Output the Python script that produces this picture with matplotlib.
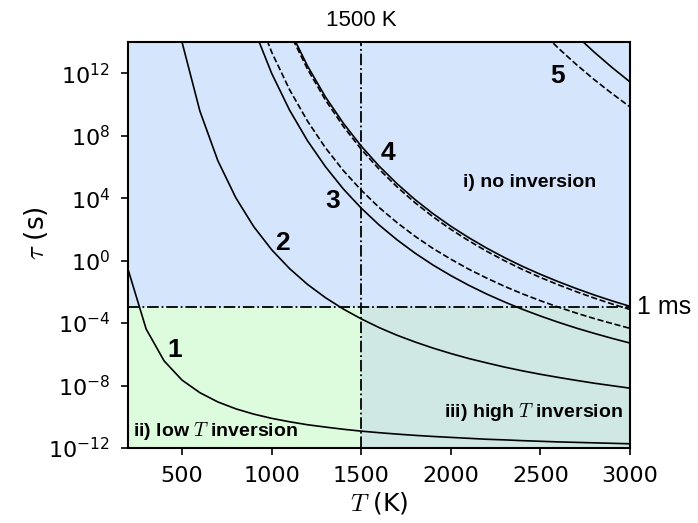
import numpy as np
import matplotlib
matplotlib.use("Agg")
import matplotlib.pyplot as plt

plt.rcParams['mathtext.fontset'] = 'cm'

# temperature grid (K)
T = np.arange(200, 3001, 100)

# log10 of relaxation time tau (s)
logtau_1 = [-0.6, -4.38, -6.42, -7.65, -8.46, -9.05, -9.49, -9.83, -10.10, -10.32,
            -10.51, -10.66, -10.80, -10.92, -11.02, -11.11, -11.19, -11.26, -11.32,
            -11.38, -11.44, -11.48, -11.53, -11.57, -11.61, -11.64, -11.67, -11.70, -11.73]
T_2 = T[2:]
logtau_2 = [20.65, 14.0, 9.57, 6.40, 4.03, 2.18, 0.70, -0.51, -1.52, -2.37, -3.10,
            -3.73, -4.29, -4.78, -5.21, -5.60, -5.95, -6.27, -6.55, -6.82, -7.06,
            -7.28, -7.48, -7.67, -7.85, -8.01, -8.17]
T_3 = T[6:]
logtau_3 = [18.48, 14.88, 12.0, 9.64, 7.68, 6.02, 4.59, 3.36, 2.28, 1.33, 0.48,
            -0.28, -0.96, -1.58, -2.14, -2.65, -3.12, -3.55, -3.95, -4.32, -4.66,
            -4.98, -5.28]
logtau_3b = [20.0, 16.31, 13.36, 10.95, 8.94, 7.23, 5.77, 4.51, 3.40, 2.43, 1.56,
             0.78, 0.09, -0.55, -1.12, -1.65, -2.13, -2.57, -2.98, -3.36, -3.71,
             -4.03, -4.34]
T_4 = T[8:]
logtau_4 = [17.6, 14.8, 12.47, 10.49, 8.80, 7.33, 6.05, 4.92, 3.91, 3.01, 2.20,
            1.47, 0.80, 0.19, -0.37, -0.88, -1.35, -1.79, -2.20, -2.58, -2.93]
logtau_4b = [17.4, 14.6, 12.27, 10.29, 8.60, 7.13, 5.85, 4.72, 3.71, 2.81, 2.00,
             1.27, 0.60, -0.01, -0.57, -1.08, -1.55, -1.99, -2.40, -2.78, -3.13]
T_5 = T[24:]
logtau_5 = [15.56, 14.41, 13.35, 12.36, 11.44]
T_5b = T[22:]
logtau_5b = [15.95, 14.73, 13.60, 12.56, 11.59, 10.69, 9.84]

T_cut = 1500      # K
tau_cut = 1e-3    # s

fig = plt.figure(figsize=(6.98, 5.23), dpi=100)
ax = fig.add_axes([0.1837, 0.1434, 0.719, 0.7763])

ax.set_xlim(200, 3000)
ax.set_ylim(1e-12, 1e14)
ax.set_yscale('log')

# shaded regions
ax.axhspan(tau_cut, 1e14, color='#d5e5fc', zorder=0, lw=0)
ax.fill_between([200, T_cut], 1e-12, tau_cut, color='#ddfbdd', zorder=0, lw=0)
ax.fill_between([T_cut, 3000], 1e-12, tau_cut, color='#cfe8e3', zorder=0, lw=0)

lw = 1.2
ax.plot(T, 10.0**np.array(logtau_1), 'k-', lw=lw)
ax.plot(T_2, 10.0**np.array(logtau_2), 'k-', lw=lw)
ax.plot(T_3, 10.0**np.array(logtau_3), 'k-', lw=lw)
ax.plot(T_3, 10.0**np.array(logtau_3b), 'k--', lw=lw)
ax.plot(T_4, 10.0**np.array(logtau_4), 'k-', lw=lw)
ax.plot(T_4, 10.0**np.array(logtau_4b), 'k--', lw=lw)
ax.plot(T_5, 10.0**np.array(logtau_5), 'k-', lw=lw)
ax.plot(T_5b, 10.0**np.array(logtau_5b), 'k--', lw=lw)

ax.axvline(T_cut, color='k', ls='-.', lw=1.3)
ax.axhline(tau_cut, color='k', ls='-.', lw=1.3)

lab = dict(fontsize=19, fontweight='bold', family='Liberation Sans', ha='center', va='center')
ax.text(460, 10**-5.7, '1', **lab)
ax.text(1061, 10**1.12, '2', **lab)
ax.text(1340, 10**3.81, '3', **lab)
ax.text(1650, 10**6.88, '4', **lab)
ax.text(2597, 10**11.8, '5', **lab)

reg = dict(fontsize=14, fontweight='bold', family='Liberation Sans', va='center')
ax.text(2442, 10**5.0, 'i) no inversion', ha='center', **reg)
ax.text(225, 10**-10.9, 'ii) low $T$ inversion', ha='left', **reg)
ax.text(2960, 10**-9.7, 'iii) high $T$ inversion', ha='right', **reg)

ax.text(T_cut, 10**15.4, '1500 K', fontsize=16, family='Liberation Sans', ha='center', va='center')
ax.text(3040, tau_cut, '1 ms', fontsize=18, family='Liberation Sans', ha='left', va='center')

ax.set_xticks([500, 1000, 1500, 2000, 2500, 3000])
ax.set_yticks([1e-12, 1e-8, 1e-4, 1e0, 1e4, 1e8, 1e12])
ax.minorticks_off()
ax.tick_params(labelsize=16, length=5, width=1.2, pad=8)
for s in ax.spines.values():
    s.set_linewidth(1.5)

ax.set_xlabel('$T$ (K)', fontsize=18, labelpad=3)
ax.set_ylabel('$\\tau$ (s)', fontsize=19)
ax.yaxis.set_label_coords(-0.155, 0.53)

fig.savefig('out.png', dpi=100)
